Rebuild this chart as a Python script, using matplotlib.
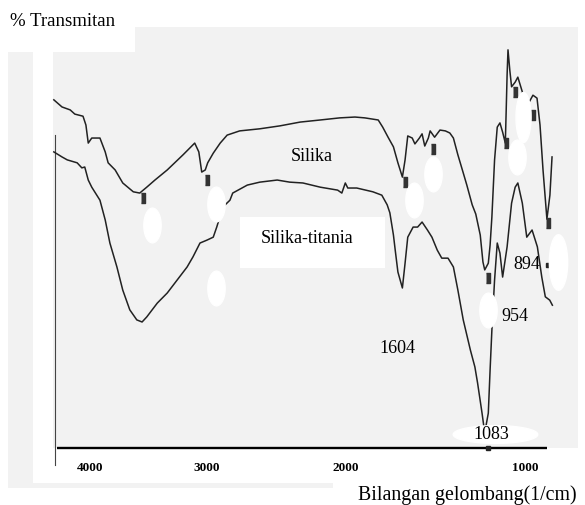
import numpy as np
import matplotlib.pyplot as plt
from matplotlib.patches import Rectangle

# Spektrum FTIR: silika dan silika-titania (bilangan gelombang, % transmitan)
silika_wn = [4310, 4240, 4170, 4130, 4060, 4035, 4015, 3985, 3915, 3870, 3845, 3785,
             3720, 3630, 3575, 3515, 3445, 3340, 3205, 3105, 3070, 3045, 3015, 2995,
             2955, 2905, 2855, 2765, 2620, 2475, 2330, 2185, 2045, 1950, 1895, 1820,
             1795, 1765, 1735, 1710, 1685, 1670, 1655, 1630, 1615, 1590, 1575, 1560,
             1540, 1530, 1505, 1475, 1445, 1420, 1400, 1375, 1345, 1325, 1295, 1275,
             1250, 1235, 1225, 1205, 1195, 1185, 1170, 1155, 1140, 1125, 1110, 1105,
             1100, 1095, 1085, 1075, 1055, 1040, 1015, 1000, 985, 955, 932, 915,
             898, 876, 859, 847]
silika_t = [82.9, 81.2, 80.5, 79.5, 79.0, 76.9, 72.6, 73.8, 73.8, 70.5, 67.9, 66.2,
            63.1, 61.0, 60.7, 62.1, 63.8, 66.2, 69.8, 72.6, 70.5, 65.7, 66.2, 67.9,
            70.2, 72.6, 74.5, 75.5, 76.0, 76.7, 77.6, 78.1, 78.6, 78.8, 78.6, 78.1,
            76.4, 74.0, 71.7, 67.9, 64.5, 68.6, 74.3, 73.8, 72.4, 73.8, 74.8, 71.9,
            73.8, 75.5, 74.0, 75.7, 75.5, 75.0, 73.8, 69.8, 65.5, 62.6, 57.9, 55.7,
            50.7, 44.3, 42.4, 44.0, 48.3, 55.0, 68.6, 76.4, 77.4, 75.2, 72.6, 80.5,
            88.8, 94.8, 90.0, 86.0, 87.1, 88.3, 84.8, 81.2, 81.7, 84.0, 83.3, 76.9,
            66.2, 54.5, 60.2, 69.3]

titania_wn = [4310, 4240, 4195, 4110, 4070, 4045, 4015, 3985, 3915, 3870, 3830, 3770,
              3720, 3660, 3600, 3555, 3515, 3425, 3340, 3255, 3170, 3120, 3060, 3000,
              2955, 2930, 2885, 2835, 2815, 2710, 2620, 2495, 2405, 2310, 2185, 2060,
              2030, 2005, 1990, 1940, 1850, 1800, 1770, 1755, 1735, 1725, 1710, 1685,
              1670, 1655, 1625, 1600, 1575, 1545, 1520, 1490, 1465, 1430, 1400, 1375,
              1345, 1305, 1280, 1265, 1240, 1225, 1205, 1195, 1185, 1170, 1155, 1140,
              1125, 1100, 1075, 1055, 1040, 1015, 990, 960, 930, 905, 885, 860, 845]
titania_t = [70.5, 69.3, 68.6, 67.9, 66.7, 66.9, 63.8, 62.1, 59.0, 54.3, 48.8, 43.1,
             37.6, 32.9, 30.5, 30.0, 31.2, 34.5, 36.9, 40.0, 43.1, 45.5, 48.8, 49.5,
             50.2, 52.6, 57.4, 59.0, 60.7, 62.6, 63.3, 63.8, 63.3, 63.1, 62.1, 61.4,
             60.7, 63.1, 61.9, 61.9, 61.0, 60.2, 57.9, 56.0, 50.7, 47.1, 41.9, 38.1,
             44.0, 50.2, 52.6, 52.6, 53.8, 51.9, 50.2, 47.1, 45.2, 45.2, 43.1, 37.6,
             30.5, 23.3, 19.3, 15.5, 8.3, 3.6, 8.3, 18.6, 28.1, 40.0, 48.8, 46.4,
             40.7, 47.9, 58.3, 62.1, 63.1, 58.3, 50.2, 51.9, 47.9, 40.7, 36.0, 35.2, 34.0]

tick_values = [4000, 3000, 2000, 1000]

# penanda puncak kecil dari hasil scan
marker_wn = [3545, 3000, 1670, 1515, 1055, 1105, 955, 870, 1205]
marker_t = [59.5, 63.8, 63.3, 71.2, 84.8, 72.6, 79.3, 53.6, 40.5]

# bercak putih (penghapus) pada gambar asli
blob_wn = [3470, 2935, 2935, 1620, 1515, 1045, 1205]
blob_t = [53.1, 58.1, 38.1, 59.0, 65.2, 69.3, 32.9]

# sumbu x hasil scan tidak linear: bilangan gelombang -> jarak dari tepi kanan (px)
AXIS_WN = [700, 1000, 2000, 3000, 4000, 4300, 4700]
AXIS_DIST = [0, 53, 232, 371, 488, 523, 570]


def forward(wn):
    return np.interp(wn, AXIS_WN, AXIS_DIST)


def inverse(d):
    return np.interp(d, AXIS_DIST, AXIS_WN)


def oval(rx, ry):
    return [(np.cos(a) * rx, np.sin(a) * ry) for a in np.linspace(0, 2 * np.pi, 60)]


W, H = 585, 505
fig = plt.figure(figsize=(W / 100, H / 100), dpi=100)
plt.rcParams['font.family'] = ['Liberation Serif', 'DejaVu Serif']


def px_rect(x0, y0, x1, y1, color, z=-1):
    fig.patches.append(Rectangle((x0 / W, 1 - y1 / H), (x1 - x0) / W, (y1 - y0) / H,
                                 transform=fig.transFigure, facecolor=color,
                                 edgecolor='none', zorder=z))


gray = '#f2f2f2'
px_rect(8, 52, 578, 448, gray)
px_rect(135, 27, 578, 52, gray)
px_rect(8, 448, 33, 488, gray)
px_rect(8, 483, 333, 488, gray)
px_rect(33, 52, 53, 483, 'white', z=-0.5)
px_rect(53, 448, 578, 473, 'white', z=-0.5)

ax = fig.add_axes([8 / W, (H - 448) / H, 570 / W, 421 / H])
ax.set_facecolor('none')
for s in ax.spines.values():
    s.set_visible(False)
ax.set_xscale('function', functions=(forward, inverse))
ax.set_xlim(4700, 700)
ax.set_ylim(0, 421 / 4.2)
ax.set_yticks([])
ax.set_xticks(tick_values)
ax.set_xticklabels([str(v) for v in tick_values], fontweight='bold', fontsize=9.5)
ax.tick_params(axis='x', length=0, pad=10)

# garis sumbu
ax.plot([4300, 4300], [-4.0, 74.5], color='#444444', lw=0.8, clip_on=False)
ax.hlines(0, 4285, 875, color='black', lw=1.7, clip_on=False)

ax.plot(silika_wn, silika_t, color='#222222', lw=1.1)
ax.plot(titania_wn, titania_t, color='#222222', lw=1.1)

ax.plot(marker_wn, marker_t, ls='none', color='#333333',
        marker=[(-0.4, -1), (0.4, -1), (0.4, 1), (-0.4, 1)], markersize=7)
ax.plot([1205, 870], [0, 43.6], ls='none', marker='s', color='#222222', markersize=3,
        clip_on=False)

ax.plot(blob_wn, blob_t, ls='none', marker=oval(0.5, 1), markersize=25, color='white',
        zorder=5)
ax.plot([1010], [78.8], ls='none', marker=oval(0.3, 1), markersize=36, color='white',
        zorder=5)
ax.plot([814], [44.3], ls='none', marker=oval(0.33, 1), markersize=40, color='white',
        zorder=5, clip_on=False)
ax.plot([1170], [3.3], ls='none', marker=oval(1, 0.21), markersize=61, color='white',
        zorder=5)

# kotak putih label silika-titania
ax.add_patch(Rectangle((240 / W, 1 - 268 / H), 145 / W, 51 / H, transform=fig.transFigure,
                       facecolor='white', edgecolor='none', zorder=5))

fs = 13
ax.text(2245, 69.3, 'Silika', fontsize=fs, ha='center', va='center', zorder=6)
ax.text(2280, 49.8, 'Silika-titania', fontsize=fs, ha='center', va='center', zorder=6)
ax.text(1715, 23.8, '1604', fontsize=fs, ha='center', va='center', zorder=6)
ax.text(1055, 31.2, '954', fontsize=fs, ha='center', va='center', zorder=6)
ax.text(990, 43.6, '894', fontsize=fs, ha='center', va='center', zorder=6)
ax.text(1190, 3.1, '1083', fontsize=fs, ha='center', va='center', zorder=6)

fig.text(10 / W, 1 - 22 / H, '% Transmitan', fontsize=13.5, ha='left', va='center')
fig.text(467 / W, 1 - 500 / H, 'Bilangan gelombang(1/cm)', fontsize=14.3,
         ha='center', va='baseline')

fig.savefig('out.png', dpi=100)
